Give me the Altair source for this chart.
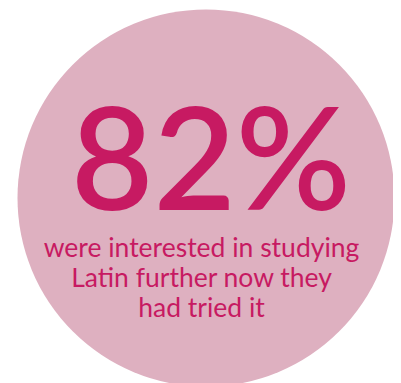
import altair as alt
import pandas as pd

# Data
percent_value = [82]
caption_lines = ["were interested in studying", "Latin further now they", "had tried it"]

W, H = 385, 375
circle_color = "#deb0c0"
text_color = "#c71a62"

big_df = pd.DataFrame({"label": [f"{v}%" for v in percent_value]})
cap_df = pd.DataFrame({"line": caption_lines, "idx": list(range(len(caption_lines)))})

circle = alt.Chart(big_df).mark_point(
    shape="circle", filled=True, color=circle_color, opacity=1, strokeWidth=0
).encode(
    x=alt.value(198),
    y=alt.value(190),
    size=alt.value(142129),
)

big = alt.Chart(big_df).mark_text(
    font="Lato", fontSize=142, fontWeight=600, color=text_color,
    align="center", baseline="alphabetic"
).encode(
    x=alt.value(203),
    y=alt.value(202),
    text="label:N",
)

caption = alt.Chart(cap_df).mark_text(
    font="Lato", fontSize=26.5, color=text_color, align="center", baseline="alphabetic"
).encode(
    x=alt.value(193.5),
    y=alt.Y("idx:Q", scale=alt.Scale(domain=[0, 2], range=[248.5, 309]), axis=None),
    text="line:N",
)

chart = alt.layer(circle, big, caption).properties(
    width=W, height=H, padding=0, background="white",
    autosize=alt.AutoSizeParams(type="fit", contains="padding"),
).configure_view(strokeWidth=0, stroke=None)

chart.save("out.html", embed_options={"renderer": "svg", "actions": False})
